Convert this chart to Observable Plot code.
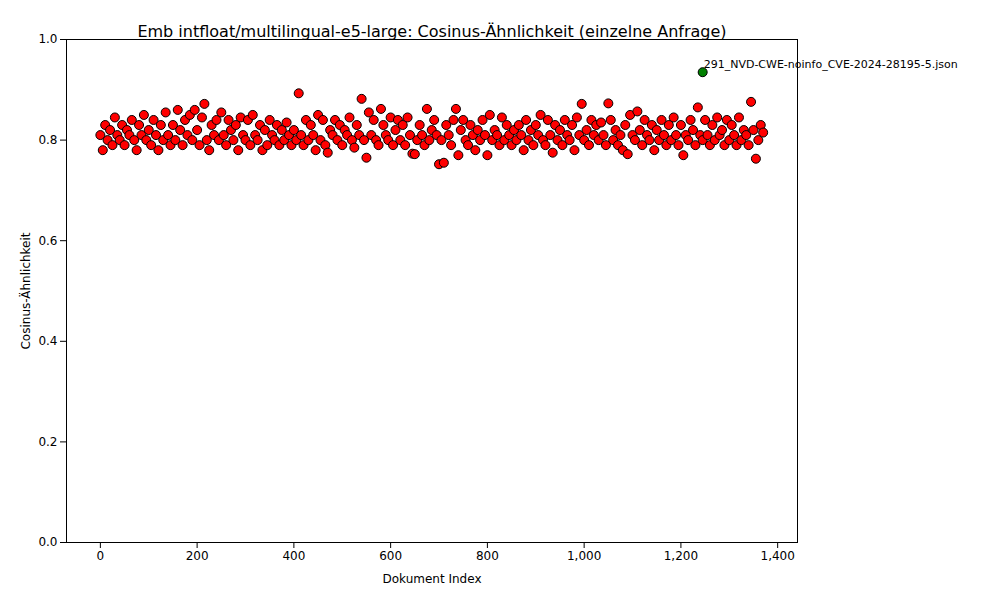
<!DOCTYPE html>
<html>
<head>
<meta charset="utf-8">
<script src="https://cdn.jsdelivr.net/npm/d3@7"></script>
<script src="https://cdn.jsdelivr.net/npm/@observablehq/plot@0.6"></script>
<style>
  body { margin: 0; background: white; font-family: "DejaVu Sans", sans-serif; }
</style>
</head>
<body>
<div id="chart"></div>
<script>
// Dokumente in 5er-Schritten (Index = Position * 5)
const step = 5
const scores = [
  .81,.78,.83,.80,.82,.79,.845,.81,.80,.83,
  .79,.82,.81,.84,.80,.78,.83,.81,.85,.80,
  .82,.79,.84,.81,.78,.83,.80,.855,.81,.79,
  .83,.80,.86,.82,.79,.84,.81,.85,.80,.86,
  .82,.79,.845,.872,.80,.78,.83,.81,.84,.80,
  .855,.81,.79,.84,.82,.80,.83,.78,.845,.81,
  .80,.84,.79,.85,.81,.80,.83,.78,.82,.79,
  .84,.81,.80,.83,.79,.82,.80,.835,.81,.79,
  .82,.80,.893,.81,.79,.84,.80,.83,.81,.78,
  .85,.80,.84,.79,.775,.82,.81,.84,.80,.83,
  .79,.82,.81,.845,.80,.785,.83,.81,.882,.80,
  .765,.855,.81,.84,.80,.79,.862,.83,.81,.80,
  .845,.79,.82,.84,.80,.83,.79,.845,.81,.773,
  .772,.80,.83,.81,.79,.862,.80,.82,.84,.81,
  .752,.80,.755,.83,.81,.79,.84,.862,.77,.82,
  .84,.80,.79,.83,.81,.78,.82,.80,.84,.81,
  .77,.85,.80,.82,.81,.79,.845,.80,.83,.81,
  .79,.82,.80,.83,.81,.78,.84,.80,.82,.79,
  .83,.81,.85,.80,.79,.84,.81,.775,.83,.80,
  .82,.79,.84,.81,.80,.83,.78,.845,.81,.872,
  .80,.82,.79,.84,.81,.83,.80,.835,.81,.79,
  .873,.84,.80,.82,.79,.81,.78,.83,.772,.85,
  .81,.80,.857,.82,.79,.84,.81,.80,.83,.78,
  .82,.80,.84,.81,.79,.83,.80,.845,.81,.79,
  .83,.77,.81,.80,.84,.82,.79,.865,.81,.80,
  .84,.81,.79,.83,.80,.845,.81,.82,.79,.84,
  .80,.83,.81,.79,.845,.80,.82,.81,.79,.876,
  .82,.763,.80,.83,.815
]
const topDoc = [{x: 1245, y: 0.935, name: "291_NVD-CWE-noinfo_CVE-2024-28195-5.json"}]

let chart = Plot.plot({
  width: 1000,
  height: 600,
  marginLeft: 66,
  marginRight: 203,
  marginTop: 39,
  marginBottom: 58,
  style: {fontFamily: "DejaVu Sans", fontSize: "12px", color: "black"},
  x: {domain: [-70, 1441], ticks: d3.range(0, 1401, 200), label: "Dokument Index", labelAnchor: "center", labelArrow: "none", labelOffset: 40},
  y: {domain: [0, 1], ticks: d3.range(0, 1.01, 0.2), tickFormat: d3.format(".1f"), label: "Cosinus-Ähnlichkeit", labelAnchor: "center", labelArrow: "none", labelOffset: 45},
  marks: [
    Plot.frame(),
    Plot.dot(scores, {x: (d, i) => i * step, y: d => d, r: 4.5, fill: "red", stroke: "black", strokeWidth: 1}),
    Plot.dot(topDoc, {x: "x", y: "y", r: 4.5, fill: "green", stroke: "black", strokeWidth: 1}),
    Plot.text(topDoc, {x: "x", y: "y", text: "name", textAnchor: "start", dx: 1, dy: -8, fontSize: 11}),
    Plot.text(["Emb intfloat/multilingual-e5-large: Cosinus-Ähnlichkeit (einzelne Anfrage)"], {frameAnchor: "top", dy: -14, fontSize: 16})
  ]
})
d3.select('#chart').append(() => chart)
</script>
</body>
</html>
